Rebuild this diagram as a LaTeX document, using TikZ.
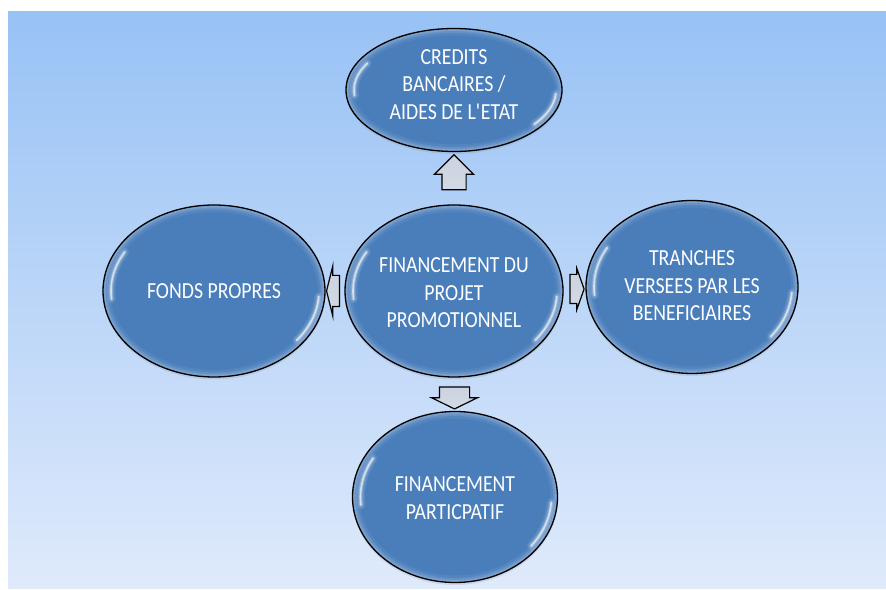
\documentclass[tikz,border=0pt]{standalone}
\usepackage{fontspec}
\setmainfont{Carlito}[FakeStretch=0.86]
\usetikzlibrary{shapes.geometric,shapes.arrows,calc,shadows}

\definecolor{bgtop}{HTML}{98C2F5}
\definecolor{bgbot}{HTML}{DFEAFB}
\definecolor{bubblefill}{HTML}{4A7EBB}
\definecolor{arrowlight}{HTML}{F6F8FC}
\definecolor{arrowdark}{HTML}{CBD3E0}

\pgfdeclarelayer{backdrop}
\pgfdeclarelayer{arrowlayer}
\pgfsetlayers{backdrop,arrowlayer,main}

% centred text block that does not widen the ellipse around it;
% the optional argument sets its vertical offset
\newcommand\bubbletext[2][-9pt]{\makebox[0pt]{\raisebox{#1}[0pt][0pt]{%
  \begin{tabular}{@{}c@{}}#2\end{tabular}}}}

% glossy rim and two soft light streaks inside each bubble
\newcommand\bubblegloss{%
  \pgfpointdiff{\pgfpointanchor{path picture bounding box}{center}}%
               {\pgfpointanchor{path picture bounding box}{north east}}%
  \pgfgetlastxy{\bubblerx}{\bubblery}%
  \coordinate (gc) at (path picture bounding box.center);
  \foreach \w/\o in {12/0.06, 7/0.10, 3/0.14}
    \draw[white, opacity=\o, line width=\w pt]
      (gc) ellipse[x radius=\bubblerx-1pt, y radius=\bubblery-1pt];
  \foreach \w/\o in {9/0.07, 6/0.12, 3.5/0.25, 1.6/0.6}{
    \draw[white, opacity=\o, line width=\w pt, line cap=round]
      ($(gc)+({(\bubblerx-8pt)*cos(150)},{(\bubblery-8pt)*sin(150)})$)
      arc[start angle=150, end angle=186, x radius=\bubblerx-8pt, y radius=\bubblery-8pt];
    \draw[white, opacity=\o, line width=\w pt, line cap=round]
      ($(gc)+({(\bubblerx-6pt)*cos(-38)},{(\bubblery-6pt)*sin(-38)})$)
      arc[start angle=-38, end angle=-4, x radius=\bubblerx-6pt, y radius=\bubblery-6pt];
  }
}

\tikzset{
  bubble/.style={ellipse, draw=black, line width=1.3pt, fill=bubblefill,
    text=white, font=\fontsize{23}{27.5}\selectfont, inner sep=0pt,
    drop shadow={opacity=0.18, shadow xshift=0pt, shadow yshift=-2.5pt},
    path picture={\bubblegloss}},
  blockarrow/.style={single arrow, draw=black, line width=1.2pt,
    top color=arrowdark, middle color=arrowlight, bottom color=arrowdark!85,
    inner xsep=0pt},
}

\begin{document}
\begin{tikzpicture}[x=1pt,y=1pt]
  \useasboundingbox (0,0) rectangle (886,589);
  \begin{pgfonlayer}{backdrop}
    \shade[top color=bgtop, bottom color=bgbot] (8,0) rectangle (886,577);
  \end{pgfonlayer}

  \node[bubble, minimum width=216pt, minimum height=123pt] (t) at (454,499)
    {\bubbletext[-2.5pt]{CREDITS\\BANCAIRES /\\AIDES DE L\textquotesingle ETAT}};
  \node[bubble, minimum width=218pt, minimum height=172pt] (c) at (454,298)
    {\bubbletext[-10pt]{FINANCEMENT DU\\PROJET\\PROMOTIONNEL}};
  \node[bubble, minimum width=222pt, minimum height=172pt] (l) at (214,298)
    {\bubbletext[-8pt]{FONDS PROPRES}};
  \node[bubble, minimum width=212pt, minimum height=173pt] (r) at (692,302)
    {\bubbletext[-7pt]{TRANCHES\\VERSEES PAR LES\\BENEFICIAIRES}};
  \node[bubble, minimum width=205pt, minimum height=171pt] (b) at (455,92)
    {\bubbletext[-9pt]{FINANCEMENT\\PARTICPATIF}};

  \begin{pgfonlayer}{arrowlayer}
    \node[blockarrow, rotate=90, minimum height=35pt, minimum width=38pt,
          inner ysep=11.5pt, single arrow head extend=7.5pt, single arrow tip angle=90]
      (up) at ($(c.north)!0.5!(t.south)$) {};
    \node[blockarrow, rotate=180, minimum height=13pt, minimum width=49pt,
          inner ysep=15pt, single arrow head extend=9.5pt, single arrow tip angle=152]
      (lf) at ($(c.west)!0.5!(l.east)$) {};
    \node[blockarrow, minimum height=14pt, minimum width=40pt,
          inner ysep=14pt, single arrow head extend=6pt, single arrow tip angle=141]
      (rt) at ($(c.east)!0.5!(r.west)$) {};
    \node[blockarrow, rotate=-90, minimum height=22pt, minimum width=45pt,
          inner ysep=14.5pt, single arrow head extend=8pt, single arrow tip angle=128]
      (dn) at ($(c.south)!0.5!(b.north)$) {};
  \end{pgfonlayer}
\end{tikzpicture}
\end{document}
